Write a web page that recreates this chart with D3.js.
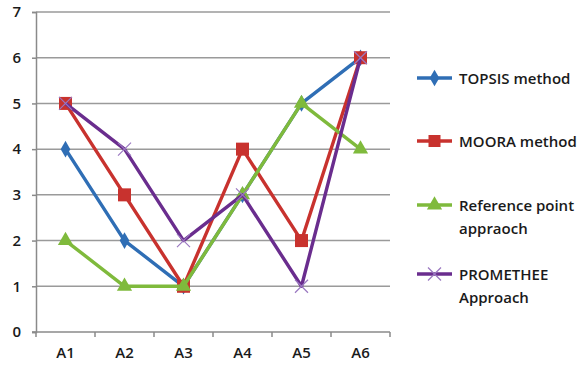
<!DOCTYPE html>
<html><head><meta charset="utf-8">
<script src="https://cdn.jsdelivr.net/npm/d3@7"></script>
<style>body{margin:0;background:#fff}svg{display:block}text{font-family:"Open Sans",sans-serif;font-weight:600;fill:#1a1a1a}</style>
</head><body><svg id="c" width="579" height="370"></svg>
<script>
const categories = ["A1","A2","A3","A4","A5","A6"];
const topsis = [4,2,1,3,5,6];
const moora = [5,3,1,4,2,6];
const refPoint = [2,1,1,3,5,4];
const promethee = [5,4,2,3,1,6];
const seriesNames = ["TOPSIS method","MOORA method","Reference point appraoch","PROMETHEE Approach"];
const legendLines = [["TOPSIS method"],["MOORA method"],["Reference point","appraoch"],["PROMETHEE","Approach"]];
const yTicks = [0,1,2,3,4,5,6,7];

const series = [
  {name:seriesNames[0], values:topsis, color:"#2F6EB5", marker:"diamond"},
  {name:seriesNames[1], values:moora, color:"#C8322E", marker:"square"},
  {name:seriesNames[2], values:refPoint, color:"#7FBA3C", marker:"triangle"},
  {name:seriesNames[3], values:promethee, color:"#6A2D8E", marker:"x"}
];

const svg = d3.select("#c");
const L=36, R=390, T=12, B=332;
const FS=15;
const x = d3.scaleBand().domain(categories).range([L,R]);
const y = d3.scaleLinear().domain([0,7]).range([B,T]);

svg.append("g").selectAll("line").data(yTicks.filter(d=>d>0)).join("line")
  .attr("x1",L).attr("x2",R).attr("y1",d=>y(d)).attr("y2",d=>y(d))
  .attr("stroke","#9a9a9a").attr("stroke-width",1.5);

const ya = svg.append("g").attr("transform",`translate(${L},0)`)
  .call(d3.axisLeft(y).tickValues(yTicks).tickSize(4).tickPadding(11).tickFormat(d3.format("d")));
ya.select(".domain").attr("stroke","#8a8a8a").attr("stroke-width",1.5);
ya.selectAll(".tick line").attr("stroke","#8a8a8a").attr("stroke-width",1.5);
ya.selectAll("text").attr("font-size",FS).attr("font-family","Open Sans").attr("fill","#1a1a1a");

const xa = svg.append("g").attr("transform",`translate(0,${B})`);
xa.append("line").attr("x1",L-4).attr("x2",R).attr("stroke","#8a8a8a").attr("stroke-width",1.5);
const edges = categories.map(c=>x(c)).concat([R]);
xa.selectAll("line.t").data(edges).join("line").attr("class","t")
  .attr("x1",d=>d).attr("x2",d=>d).attr("y1",0).attr("y2",5)
  .attr("stroke","#8a8a8a").attr("stroke-width",1.5);
xa.selectAll("text").data(categories).join("text")
  .attr("x",d=>x(d)+x.bandwidth()/2).attr("y",26).attr("text-anchor","middle")
  .attr("font-size",FS).text(d=>d);

function drawMarker(g, type, color, cx, cy, s){
  if(type==="diamond"){
    g.append("path").attr("d",d3.symbol(d3.symbolDiamond, 80)()).attr("transform",`translate(${cx},${cy})`).attr("fill",color);
  } else if(type==="square"){
    g.append("rect").attr("x",cx-s/2).attr("y",cy-s/2).attr("width",s).attr("height",s).attr("fill",color);
  } else if(type==="triangle"){
    g.append("path").attr("d",d3.symbol(d3.symbolTriangle, 100)()).attr("transform",`translate(${cx},${cy})`).attr("fill",color);
  } else {
    const h=6.5;
    g.append("path").attr("d",`M${cx-h},${cy-h}L${cx+h},${cy+h}M${cx-h},${cy+h}L${cx+h},${cy-h}`)
      .attr("stroke","#9a78c0").attr("stroke-width",1.2).attr("fill","none");
  }
}

const line = d3.line().x((d,i)=>x(categories[i])+x.bandwidth()/2).y(d=>y(d));
series.forEach(s=>{
  const g = svg.append("g");
  g.append("path").attr("d",line(s.values)).attr("fill","none").attr("stroke",s.color).attr("stroke-width",3.4).attr("stroke-linejoin","round");
  s.values.forEach((v,i)=>drawMarker(g,s.marker,s.color,x(categories[i])+x.bandwidth()/2,y(v),13));
});

const legY = [78,141,205,274];
series.forEach((s,i)=>{
  const g = svg.append("g");
  g.append("line").attr("x1",417).attr("x2",452).attr("y1",legY[i]).attr("y2",legY[i]).attr("stroke",s.color).attr("stroke-width",3.4);
  drawMarker(g,s.marker,s.color,434.5,legY[i],12);
  legendLines[i].forEach((t,j)=>{
    g.append("text").attr("x",459).attr("y",legY[i]+5.5+j*23).attr("font-size",FS).text(t);
  });
});
</script></body></html>
